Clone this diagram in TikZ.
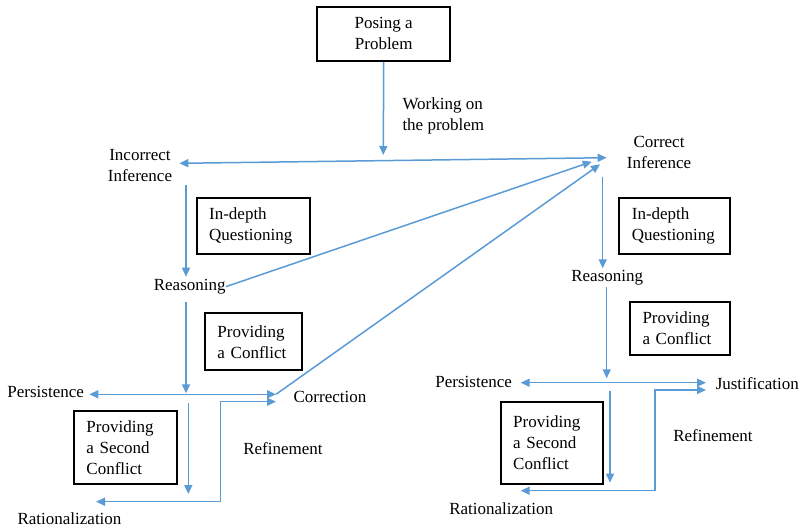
\documentclass[tikz,border=0pt]{standalone}
\usepackage{fontspec}
\setmainfont{Liberation Serif}
\usetikzlibrary{arrows.meta}
\definecolor{conncol}{HTML}{5B9BD5}
\begin{document}
\begin{tikzpicture}[x=1pt,y=-1pt,
  every node/.style={font=\fontsize{17}{21}\selectfont, inner sep=0pt},
  lbl/.style={align=center},
  boxn/.style={draw=black, line width=2pt, align=left, inner xsep=12.5pt},
  conn/.style={draw=conncol, line width=1.5pt, -{Triangle[length=9pt,width=8pt]}},
  dconn/.style={draw=conncol, line width=1.5pt, {Triangle[length=9pt,width=8pt]}-{Triangle[length=9pt,width=8pt]}}
]
\path[use as bounding box] (0,0) rectangle (802,528);

% boxes
\node[draw=black, line width=2pt, align=center, minimum width=132.7pt, minimum height=54.3pt] (pose) at (383.7,33.9) {Posing a\\Problem};
\node[boxn, text width=88.3pt, minimum height=55.7pt] (iqL) at (253.3,226.2) {In-depth\\Questioning};
\node[boxn, text width=71.7pt, minimum height=56.7pt] (pcL) at (253.3,341.7) {Providing\\a Conflict};
\node[boxn, text width=77.7pt, minimum height=73.6pt] (scL) at (125.3,447.5) {Providing\\a Second\\Conflict};
\node[boxn, text width=85.7pt, minimum height=55.7pt] (iqR) at (674.7,226.2) {In-depth\\Questioning};
\node[boxn, text width=75pt, minimum height=53.3pt] (pcR) at (680,328.3) {Providing\\a Conflict};
\node[boxn, text width=77pt, minimum height=82.3pt] (scR) at (551.7,442.8) {Providing\\a Second\\Conflict};

% labels
\node[anchor=west, align=left] (work) at (402.3,115.8) {Working on\\the problem};
\node[lbl] (incinf) at (140,165.8) {Incorrect\\Inference};
\node[lbl] (corinf) at (659,152.5) {Correct\\Inference};
\node (reasL) at (189.7,286.7) {Reasoning};
\node (reasR) at (607.2,277.7) {Reasoning};
\node (persL) at (45.7,392.3) {Persistence};
\node (corr) at (330,396.7) {Correction};
\node (refL) at (283,448.3) {Refinement};
\node (ratL) at (69.5,518.3) {Rationalization};
\node (persR) at (473.7,382.3) {Persistence};
\node (just) at (757.3,383.3) {Justification};
\node (refR) at (713,435.7) {Refinement};
\node (ratR) at (501.2,509) {Rationalization};

% coordinates
\coordinate (a1) at (383.3,155);
\coordinate (hL) at (179.3,163.3);
\coordinate (hR) at (606.7,157.7);
\coordinate (v1s) at (186,185);
\coordinate (v1e) at (186,276.7);
\coordinate (dg1) at (591.7,161.7);
\coordinate (v2s) at (186,301.7);
\coordinate (v2e) at (186,393.3);
\coordinate (pL) at (89.3,394.3);
\coordinate (cL) at (276,394.3);
\coordinate (dg2) at (600,164.3);
\coordinate (rL) at (96,501.7);
\coordinate (kL) at (220.7,501.7);
\coordinate (kL2) at (220.7,401.7);
\coordinate (cL2) at (276,401.7);
\coordinate (v3s) at (188.3,402.7);
\coordinate (v3e) at (188.3,494);
\coordinate (v4s) at (602.7,176.7);
\coordinate (v4e) at (602.7,268.3);
\coordinate (v5s) at (606.7,287.3);
\coordinate (v5e) at (606.7,378.3);
\coordinate (pR) at (520.7,382.7);
\coordinate (jR) at (706,382.7);
\coordinate (rR) at (520.7,490.7);
\coordinate (kR) at (655,490.7);
\coordinate (kR2) at (655,390);
\coordinate (jR2) at (706,390);
\coordinate (v6s) at (610,390.7);
\coordinate (v6e) at (610,482.7);

% connectors
\draw[conn] (pose.south) -- (a1);
\draw[dconn] (hL) -- (hR);
\draw[conn] (v1s) -- (v1e);
\draw[conn] (reasL.east) -- (dg1);
\draw[conn] (v2s) -- (v2e);
\draw[dconn] (pL) -- (cL);
\draw[conn] (cL) -- (dg2);
\draw[dconn] (rL) -- (kL) -- (kL2) -- (cL2);
\draw[conn] (v3s) -- (v3e);
\draw[conn] (v4s) -- (v4e);
\draw[conn] (v5s) -- (v5e);
\draw[dconn] (pR) -- (jR);
\draw[dconn] (rR) -- (kR) -- (kR2) -- (jR2);
\draw[conn] (v6s) -- (v6e);
\end{tikzpicture}
\end{document}
